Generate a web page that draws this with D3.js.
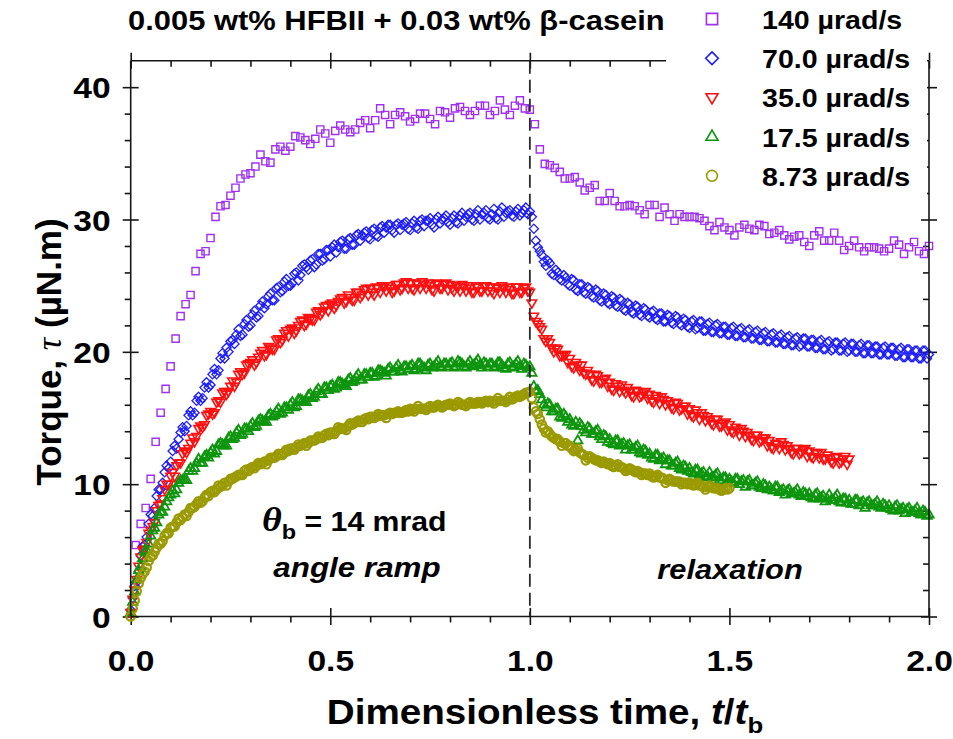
<!DOCTYPE html>
<html>
<head>
<meta charset="utf-8">
<script src="https://cdn.jsdelivr.net/npm/d3@7"></script>
<style>
  html, body { margin: 0; padding: 0; background: #fff; }
  svg { display: block; }
  text { font-family: "Liberation Sans", Arial, Helvetica, sans-serif; font-weight: bold; fill: #000; }
</style>
</head>
<body>
<svg id="chart" width="953" height="739"></svg>
<script>
// ---------------- data ----------------
const seriesLabels = ["140 \u00b5rad/s", "70.0 \u00b5rad/s", "35.0 \u00b5rad/s", "17.5 \u00b5rad/s", "8.73 \u00b5rad/s"];
const xTickValues = [0, 0.5, 1.0, 1.5, 2.0];
const xTickLabels = ["0.0", "0.5", "1.0", "1.5", "2.0"];
const yTickValues = [0, 10, 20, 30, 40];
const yTickLabels = ["0", "10", "20", "30", "40"];

// torque (µN.m) for 140 µrad/s, every 0.0125 t/tb starting at t/tb = 0.0125
const step140 = 0.0125, start140 = 0.0125;
const torque140 = [
  5.4, 7.0, 8.2, 10.4, 13.2, 15.4, 17.2, 18.9, 21.0, 22.7,
  23.6, 24.3, 26.1, 27.4, 27.6, 28.6, 30.2, 31.0, 31.1, 31.8,
  32.4, 33.1, 33.4, 33.5, 34.0, 34.9, 34.4, 34.3, 35.3, 35.5,
  35.2, 35.5, 36.3, 36.2, 36.0, 35.7, 36.1, 36.8, 36.5, 35.8,
  36.7, 37.1, 36.8, 36.6, 36.8, 37.3, 37.5, 36.9, 37.5, 38.4,
  37.9, 37.2, 37.9, 38.1, 37.8, 37.4, 37.6, 38.0, 38.0, 37.6,
  37.2, 38.2, 38.1, 37.7, 38.4, 38.5, 38.2, 37.9, 38.2, 38.6,
  38.6, 37.9, 38.2, 39.0, 38.3, 37.9, 38.6, 39.0, 38.4, 38.3,
  37.2, 35.3, 34.2, 34.1, 33.9, 33.6, 33.1, 33.1, 33.2, 32.8,
  32.2, 32.4, 32.6, 31.4, 31.4, 32.0, 31.4, 31.0, 31.0, 31.1,
  31.0, 30.7, 30.4, 31.1, 31.1, 30.2, 30.9, 30.4, 29.9, 30.4,
  30.2, 30.2, 30.2, 30.1, 29.9, 29.5, 29.2, 29.8, 29.4, 29.2,
  28.8, 29.4, 29.6, 29.3, 29.2, 29.6, 29.5, 28.9, 29.0, 29.2,
  28.8, 28.5, 28.7, 28.8, 28.3, 28.0, 28.8, 29.1, 28.4, 28.4,
  29.0, 28.4, 27.7, 28.0, 28.4, 27.9, 27.6, 27.9, 27.9, 27.8,
  27.6, 27.8, 28.4, 28.1, 27.4, 27.9, 28.3, 27.6, 27.4, 28.0
];

// the slower runs are logged every 0.005 t/tb from t/tb = 0 (one row = 0.1 t/tb)
const step70 = 0.005, start70 = 0;
const torque70 = [
  0.5,1.4,2.3,2.6,3.4,4.6,5.3,5.4,6.0,7.0,7.7,7.6,8.2,9.1,9.6,9.6,10.1,10.9,11.4,11.2,
  11.7,12.5,12.9,12.7,13.4,13.9,14.3,14.0,14.4,15.2,15.5,15.2,15.4,16.3,16.6,16.3,16.5,17.3,17.7,17.3,
  17.5,18.3,18.7,18.3,18.6,19.5,19.9,19.5,20.3,20.0,20.8,20.9,20.6,21.3,21.7,21.2,21.3,22.1,22.4,21.9,
  22.0,22.8,23.1,22.6,22.7,23.5,23.8,23.3,23.6,24.2,24.4,23.9,23.9,24.8,24.9,24.5,24.6,25.3,25.5,25.0,
  25.0,25.2,25.9,26.0,25.4,25.8,26.5,26.6,26.4,26.2,26.9,27.0,26.4,26.6,27.4,27.4,26.9,27.0,27.7,27.7,
  27.2,27.9,28.1,27.5,27.9,28.3,28.4,27.8,27.8,28.5,28.6,28.1,28.1,28.8,28.9,28.4,28.8,29.0,29.1,28.6,
  28.5,29.2,29.3,28.8,28.7,29.4,29.5,29.0,29.4,29.6,29.6,29.2,29.0,29.6,29.7,29.2,29.6,29.7,29.8,29.3,
  29.2,29.7,29.9,29.4,29.3,29.9,30.0,29.5,29.9,29.9,30.1,29.6,29.4,30.0,30.2,29.7,30.0,30.1,30.3,29.8,
  29.6,30.1,30.3,29.8,29.7,30.3,30.5,29.9,30.2,30.4,30.5,30.0,29.9,30.4,30.7,30.0,30.4,30.5,30.7,30.1,
  30.0,30.4,30.8,30.1,30.0,30.6,30.9,30.2,30.5,30.6,30.7,30.3,30.2,30.6,30.8,30.3,30.5,30.7,30.9,30.4,
  30.6,30.2,29.3,28.4,27.9,27.6,27.3,26.8,26.5,26.9,26.7,25.9,25.8,26.2,26.0,25.5,25.4,25.8,25.6,25.1,
  25.0,25.5,25.4,24.7,24.6,25.1,25.1,24.5,24.4,24.9,24.8,24.2,24.1,24.7,24.6,23.9,23.8,24.4,24.3,23.7,
  23.6,24.2,24.1,23.5,23.4,24.0,23.9,23.2,23.1,23.7,23.6,23.0,22.9,23.5,23.4,22.8,22.7,23.3,23.2,22.7,
  22.6,23.0,23.1,22.5,22.4,22.9,22.9,22.3,22.3,22.8,22.7,22.2,22.1,22.7,22.6,22.1,22.0,22.5,22.4,21.9,
  21.8,22.3,22.4,21.7,21.8,22.3,22.3,21.6,21.6,22.1,22.2,21.5,21.5,22.0,22.1,21.4,21.4,21.9,21.9,21.3,
  21.3,21.8,21.9,21.2,21.2,21.7,21.8,21.1,21.1,21.6,21.7,21.0,21.0,21.5,21.6,20.9,20.9,21.4,21.5,20.8,
  20.8,21.3,21.4,20.7,20.7,21.2,21.3,20.6,20.6,21.1,21.2,20.5,20.5,21.0,21.1,20.4,20.5,21.0,21.0,20.4,
  20.4,20.9,20.9,20.3,20.3,20.8,20.9,20.2,20.2,20.7,20.8,20.1,20.2,20.7,20.7,20.1,20.1,20.6,20.7,20.0,
  20.1,20.6,20.6,20.0,20.0,20.5,20.6,19.9,19.9,20.5,20.5,19.9,19.9,20.4,20.4,19.8,19.8,20.3,20.4,19.8,
  19.8,20.3,20.3,19.7,19.7,20.2,20.3,19.6,19.6,20.2,20.2,19.6,19.6,20.1,20.1,19.5,19.5,20.1,20.1,19.5,
  19.8
];

const step35 = 0.005, start35 = 0;
const torque35 = [
  0.3,1.3,2.0,2.8,3.8,4.5,5.0,5.1,5.6,6.3,6.5,6.8,7.1,8.0,8.4,8.5,8.9,9.6,10.0,10.0,
  10.6,10.9,10.6,11.4,11.6,11.6,12.3,12.5,12.4,12.7,13.1,13.5,13.2,13.6,14.2,14.4,14.3,14.5,15.2,15.3,
  15.5,15.3,15.4,16.2,16.3,16.2,16.9,17.0,16.8,17.0,17.4,17.8,17.4,17.7,18.3,18.5,18.3,18.4,19.0,19.1,
  19.2,19.4,19.0,19.2,19.6,19.9,20.1,19.7,19.8,20.4,20.3,20.2,20.2,20.9,21.0,20.7,20.9,21.4,21.6,21.2,
  21.7,21.8,21.4,21.6,22.0,22.3,22.4,22.0,22.1,22.6,22.5,22.4,22.4,23.0,23.1,22.8,23.0,23.4,23.5,23.1,
  23.6,23.7,23.3,23.5,23.8,24.0,24.1,23.7,23.8,24.3,24.1,23.9,23.9,24.5,24.5,24.1,24.3,24.7,24.8,24.3,
  24.8,24.5,24.3,24.9,24.8,24.5,25.0,24.9,24.6,25.0,24.8,24.5,24.6,25.1,25.1,24.7,24.8,25.2,25.3,24.8,
  25.2,24.8,24.7,25.2,25.1,24.8,25.3,25.1,24.8,25.2,25.0,24.7,24.6,25.2,25.1,24.8,24.8,25.1,25.2,24.7,
  25.1,24.8,24.6,25.0,24.9,24.6,25.1,24.9,24.6,25.0,24.8,24.5,24.5,25.0,24.9,24.6,24.6,25.0,25.0,24.6,
  24.9,24.6,24.4,24.9,24.8,24.5,25.0,24.8,24.5,24.9,24.7,24.4,24.4,24.9,24.9,24.5,24.5,24.8,24.9,24.6,
  24.5,23.7,22.7,22.3,22.1,21.9,21.7,21.0,20.8,21.0,20.7,20.3,20.0,20.3,20.2,19.7,19.7,19.8,19.8,19.2,
  19.5,18.9,18.8,19.2,19.0,18.6,19.0,18.4,18.3,18.6,18.3,17.9,17.8,18.3,18.2,17.7,17.7,17.9,18.0,17.4,
  17.7,17.2,17.1,17.6,17.4,17.0,17.5,17.1,16.9,17.3,17.0,16.7,16.6,17.1,17.0,16.6,16.7,16.9,17.0,16.5,
  16.8,16.3,16.2,16.7,16.5,16.1,16.6,16.4,16.0,16.3,16.1,15.8,15.7,16.2,16.1,15.6,15.7,15.9,15.9,15.3,
  15.7,15.2,15.1,15.6,15.4,14.9,15.4,15.2,14.8,15.1,14.9,14.6,14.5,14.9,14.9,14.4,14.4,14.6,14.7,14.1,
  14.5,14.0,13.9,14.3,14.1,13.7,14.2,14.0,13.6,13.9,13.7,13.4,13.3,13.7,13.7,13.2,13.3,13.5,13.5,12.9,
  13.3,12.8,12.7,13.1,13.0,12.7,13.2,13.0,12.6,12.9,12.7,12.4,12.3,12.7,12.7,12.3,12.4,12.6,12.7,12.1,
  12.5,12.1,12.0,12.4,12.3,12.0,12.4,11.9,11.9,12.2,12.0,11.7,11.6,12.0,12.1,11.6,11.7,11.9,12.1,11.5,
  11.9
];

const step17 = 0.005, start17 = 0;
const torque17 = [
  0.3,1.1,1.9,2.8,3.5,3.8,4.4,4.9,5.0,5.5,6.1,6.5,6.7,7.1,7.7,7.9,7.9,8.3,8.7,9.0,
  9.2,9.5,9.3,9.6,10.1,10.3,10.3,10.3,10.3,11.0,11.2,11.0,11.2,11.6,11.9,11.6,11.6,12.1,12.2,12.0,
  12.4,12.6,12.3,12.5,13.0,13.1,13.0,12.9,12.9,13.5,13.6,13.4,13.5,13.9,14.1,13.7,13.8,14.2,14.2,14.0,
  14.4,14.6,14.3,14.4,14.8,14.9,14.8,14.7,14.7,15.2,15.3,15.1,15.2,15.5,15.7,15.3,15.4,15.8,15.8,15.6,
  16.0,16.2,15.8,15.9,16.4,16.4,16.3,16.2,16.2,16.7,16.8,16.5,16.6,17.0,17.2,16.8,16.8,17.3,17.3,17.1,
  17.4,17.5,17.2,17.3,17.7,17.7,17.6,17.5,17.4,17.9,18.0,17.7,17.8,18.1,18.3,17.9,17.9,18.3,18.3,18.1,
  18.4,18.4,18.1,18.2,18.6,18.6,18.5,18.4,18.2,18.7,18.8,18.5,18.5,18.8,19.0,18.6,18.5,18.9,18.9,18.7,
  18.9,19.0,18.6,18.7,19.1,19.1,18.9,18.8,18.6,19.0,19.1,18.8,18.9,19.1,19.3,18.9,18.8,19.1,19.1,18.9,
  19.1,19.2,18.8,18.9,19.3,19.2,19.1,18.9,18.8,19.1,19.3,18.9,19.0,19.2,19.4,19.0,18.8,19.2,19.1,18.9,
  19.1,19.1,18.8,18.9,19.2,19.2,19.0,18.8,18.7,19.1,19.2,18.8,18.9,19.1,19.3,18.9,18.7,19.1,19.0,18.8,
  18.9,18.4,17.4,17.0,17.1,16.8,16.4,16.0,15.8,16.1,16.0,15.5,15.5,15.7,15.7,15.1,15.0,15.3,15.1,14.7,
  14.9,14.5,14.4,14.7,13.3,14.6,14.4,14.1,13.9,14.3,14.2,13.8,13.8,14.0,14.1,13.6,13.4,13.7,13.6,13.2,
  13.4,13.1,13.0,13.3,13.3,12.9,13.0,13.1,12.6,12.9,13.0,12.6,12.6,12.8,12.9,12.4,12.3,12.6,12.5,12.2,
  12.3,12.0,11.9,12.2,12.2,11.8,11.9,12.0,11.5,11.8,11.8,11.4,11.4,11.6,11.7,11.2,11.1,11.4,11.3,11.0,
  11.2,10.9,10.8,11.1,11.1,10.7,10.8,10.9,10.5,10.6,10.9,10.5,10.5,10.7,10.8,10.3,10.2,10.5,10.5,10.2,
  10.4,10.2,10.1,10.4,10.4,10.0,10.2,10.3,9.8,10.2,10.3,9.9,9.9,10.1,10.2,9.8,9.7,10.0,9.9,9.6,
  9.8,9.6,9.5,9.8,9.8,9.4,9.5,9.6,9.2,9.5,9.6,9.3,9.3,9.4,9.6,9.2,9.1,9.4,9.3,9.1,
  9.3,9.0,8.9,9.2,9.3,8.9,9.0,9.1,8.7,8.9,9.2,8.8,8.8,9.0,9.2,8.7,8.6,8.9,8.9,8.6,
  8.8,8.5,8.5,8.8,8.8,8.4,8.6,8.7,8.2,8.6,8.7,8.4,8.4,8.5,8.7,8.3,8.2,8.5,8.4,8.2,
  8.4,8.1,8.0,8.3,8.4,8.0,8.1,8.2,7.8,8.1,8.2,7.9,7.9,8.0,8.2,7.8,7.7,8.0,7.9,7.6,
  7.7
];

const step873 = 0.005, start873 = 0;
const torque873 = [
  0.0,0.6,1.2,1.9,2.5,2.9,3.2,3.4,3.7,4.2,4.5,4.6,4.9,5.2,5.5,5.5,5.7,6.1,6.3,6.3,
  6.7,6.8,6.8,7.1,7.4,7.3,7.5,7.7,7.6,7.9,8.2,8.2,8.3,8.5,8.7,8.6,8.7,9.0,9.2,9.1,
  9.4,9.5,9.4,9.6,9.9,9.8,9.9,10.1,9.9,10.2,10.4,10.4,10.5,10.6,10.7,10.7,10.7,11.0,11.1,11.0,
  11.2,11.3,11.2,11.4,11.6,11.5,11.6,11.7,11.5,11.8,12.0,12.0,12.0,12.1,12.3,12.2,12.2,12.4,12.6,12.5,
  12.7,12.7,12.6,12.8,13.0,12.9,13.0,13.1,12.9,13.1,13.3,13.3,13.3,13.4,13.6,13.5,13.5,13.7,13.8,13.7,
  13.9,13.9,13.8,14.0,14.3,14.2,14.2,14.2,14.1,14.4,14.6,14.5,14.6,14.7,14.8,14.7,14.7,14.9,15.0,14.9,
  15.1,15.1,15.0,15.1,15.3,15.2,15.2,15.2,15.0,15.3,15.4,15.3,15.4,15.4,15.5,15.4,15.4,15.5,15.6,15.5,
  15.7,15.6,15.5,15.7,15.9,15.7,15.7,15.7,15.6,15.8,15.9,15.8,15.8,15.9,16.0,15.9,15.8,15.9,16.0,16.0,
  16.1,16.0,15.9,16.0,16.2,16.1,16.0,16.0,15.9,16.1,16.2,16.1,16.1,16.1,16.2,16.2,16.1,16.2,16.3,16.2,
  16.3,16.2,16.1,16.3,16.5,16.3,16.3,16.3,16.2,16.4,16.6,16.4,16.5,16.6,16.7,16.6,16.7,16.8,16.9,16.9,
  17.0,16.5,15.8,15.5,15.3,14.9,14.5,14.2,13.9,14.0,13.8,13.6,13.5,13.4,13.4,13.2,12.9,13.1,13.1,12.9,
  12.9,12.7,12.5,12.6,12.7,12.4,12.3,12.2,11.8,12.0,12.1,12.0,11.9,11.8,11.8,11.7,11.6,11.7,11.6,11.5,
  11.6,11.4,11.3,11.4,11.5,11.3,11.3,11.2,11.0,11.1,11.2,11.1,11.0,10.9,11.0,10.9,10.7,10.8,10.8,10.7,
  10.8,10.6,10.5,10.6,10.7,10.5,10.5,10.4,10.1,10.3,10.4,10.3,10.2,10.2,10.2,10.2,10.0,10.1,10.1,10.0,
  10.1,10.0,9.9,10.0,10.1,9.9,9.9,9.8,9.6,9.8,9.9,9.8,9.7,9.7,9.7,9.6,9.5,9.6,9.7,9.6,
  9.7
];

// ---------------- layout ----------------
const svg = d3.select("#chart");
const box = { left: 130.7, right: 929, top: 60.7, bottom: 616.5 };
const legendBox = { x0: 666, x1: 927, y0: 0, y1: 198 };
const STRETCH = 1.12;   // horizontal widening of the label lettering
const INK = "#161616";

const x = d3.scaleLinear().domain([0, 2]).range([box.left, box.right]);
const y = d3.scaleLinear().domain([0, 42]).range([box.bottom, box.top]);

const xMinor = d3.range(1, 20).map(i => i / 10).filter(v => Math.abs(v * 2 - Math.round(v * 2)) > 1e-6);
const yMinor = d3.range(1, 21).map(i => i * 2).filter(v => v % 10 !== 0);

// ---------------- symbols ----------------
const shapes = {
  square: s => `M${-s},${-s}h${2 * s}v${2 * s}h${-2 * s}Z`,
  diamond: s => `M0,${-s}L${s},0L0,${s}L${-s},0Z`,
  triDown: s => `M${-s},${-0.62 * s}L${s},${-0.62 * s}L0,${1.1 * s}Z`,
  triUp: s => `M${-s},${0.62 * s}L${s},${0.62 * s}L0,${-1.1 * s}Z`,
  circle: s => `M${-s},0A${s},${s} 0 1,0 ${s},0A${s},${s} 0 1,0 ${-s},0Z`
};

const series = [
  { label: seriesLabels[0], values: torque140, start: start140, step: step140, color: "#A030F0", shape: "square",  size: 3.6, lsize: 5.6, sw: 1.4 },
  { label: seriesLabels[1], values: torque70,  start: start70,  step: step70,  color: "#1C1CFF", shape: "diamond", size: 4.6, lsize: 6.3, sw: 1.3 },
  { label: seriesLabels[2], values: torque35,  start: start35,  step: step35,  color: "#FF1010", shape: "triDown", size: 4.7, lsize: 6.0, sw: 1.6 },
  { label: seriesLabels[3], values: torque17,  start: start17,  step: step17,  color: "#0E950E", shape: "triUp",   size: 4.7, lsize: 6.0, sw: 1.8 },
  { label: seriesLabels[4], values: torque873, start: start873, step: step873, color: "#9A9A00", shape: "circle",  size: 4.2, lsize: 5.4, sw: 2.2 }
];

// ---------------- axes (ticks) ----------------
function cleanAxis(g) {
  g.select(".domain").remove();
  g.selectAll(".tick line").attr("stroke", INK).attr("stroke-width", 1.6);
}

// bottom: labelled major ticks outward, inward half, minor ticks outward
svg.append("g").attr("transform", `translate(0,${box.bottom})`)
  .call(d3.axisBottom(x).tickValues(xTickValues).tickSize(8.5).tickFormat((d, i) => xTickLabels[i]))
  .call(cleanAxis)
  .call(g => g.selectAll(".tick text")
    .attr("y", 0).attr("dy", null)
    .attr("transform", `translate(0,54) scale(${STRETCH},1)`)
    .attr("font-size", 30).attr("font-family", null).attr("fill", "#000"));
svg.append("g").attr("transform", `translate(0,${box.bottom})`)
  .call(d3.axisTop(x).tickValues(xTickValues).tickSize(8.5).tickFormat(""))
  .call(cleanAxis);
svg.append("g").attr("transform", `translate(0,${box.bottom})`)
  .call(d3.axisBottom(x).tickValues(xMinor).tickSize(6).tickFormat(""))
  .call(cleanAxis);

// top: major ticks both ways, minor ticks inward
svg.append("g").attr("transform", `translate(0,${box.top})`)
  .call(d3.axisTop(x).tickValues(xTickValues).tickSize(8).tickFormat(""))
  .call(cleanAxis);
svg.append("g").attr("transform", `translate(0,${box.top})`)
  .call(d3.axisBottom(x).tickValues(xTickValues).tickSize(8).tickFormat(""))
  .call(cleanAxis);
svg.append("g").attr("transform", `translate(0,${box.top})`)
  .call(d3.axisBottom(x).tickValues(xMinor).tickSize(6).tickFormat(""))
  .call(cleanAxis);

// left: labelled major ticks both ways, minor ticks outward
svg.append("g").attr("transform", `translate(${box.left},0)`)
  .call(d3.axisLeft(y).tickValues(yTickValues).tickSize(8).tickFormat((d, i) => yTickLabels[i]))
  .call(cleanAxis)
  .call(g => g.selectAll(".tick text")
    .attr("x", 0).attr("dy", "0.36em")
    .attr("transform", `translate(-20,0) scale(${STRETCH},1)`)
    .attr("font-size", 30).attr("font-family", null).attr("fill", "#000"));
svg.append("g").attr("transform", `translate(${box.left},0)`)
  .call(d3.axisRight(y).tickValues(yTickValues).tickSize(8).tickFormat(""))
  .call(cleanAxis);
svg.append("g").attr("transform", `translate(${box.left},0)`)
  .call(d3.axisLeft(y).tickValues(yMinor).tickSize(6).tickFormat(""))
  .call(cleanAxis);

// right: major ticks both ways, minor ticks inward
svg.append("g").attr("transform", `translate(${box.right},0)`)
  .call(d3.axisRight(y).tickValues(yTickValues).tickSize(8).tickFormat(""))
  .call(cleanAxis);
svg.append("g").attr("transform", `translate(${box.right},0)`)
  .call(d3.axisLeft(y).tickValues(yTickValues).tickSize(8).tickFormat(""))
  .call(cleanAxis);
svg.append("g").attr("transform", `translate(${box.right},0)`)
  .call(d3.axisLeft(y).tickValues(yMinor).tickSize(6).tickFormat(""))
  .call(cleanAxis);

// ---------------- markers ----------------
const plotArea = svg.append("g");
series.forEach(s => {
  const pts = s.values.map((v, i) => ({ t: s.start + i * s.step, v }));
  plotArea.append("g")
    .selectAll("path")
    .data(pts)
    .join("path")
    .attr("transform", d => `translate(${x(d.t)},${y(d.v)})`)
    .attr("d", shapes[s.shape](s.size))
    .attr("fill", "none")
    .attr("stroke", s.color)
    .attr("stroke-width", s.sw);
});

// dashed separator between ramp and relaxation
svg.append("line")
  .attr("x1", x(1)).attr("x2", x(1))
  .attr("y1", box.top).attr("y2", box.bottom)
  .attr("stroke", "#2a2a2a").attr("stroke-width", 1.8)
  .attr("stroke-dasharray", "13,6");

// frame: bottom, left and top edges
const edge = (x1, y1, x2, y2) => svg.append("line")
  .attr("x1", x1).attr("y1", y1).attr("x2", x2).attr("y2", y2)
  .attr("stroke", INK).attr("stroke-width", 1.6);
edge(box.left, box.bottom, box.right, box.bottom);
edge(box.left, box.top, box.left, box.bottom);
edge(box.left, box.top, box.right, box.top);

// legend panel sits over the top-right corner of the frame
svg.append("rect")
  .attr("x", legendBox.x0).attr("y", legendBox.y0)
  .attr("width", legendBox.x1 - legendBox.x0).attr("height", legendBox.y1 - legendBox.y0)
  .attr("fill", "#fff");

// right edge drawn last
edge(box.right, box.top, box.right, box.bottom);

// ---------------- text ----------------
function stretched(px, py, anchor) {
  return svg.append("text")
    .attr("text-anchor", anchor)
    .attr("transform", `translate(${px},${py}) scale(${STRETCH},1)`);
}

// title
stretched(128, 30, "start").attr("font-size", 27.6)
  .text("0.005 wt% HFBII + 0.03 wt% \u03b2-casein");

// legend entries
series.forEach((s, i) => {
  const cy = 19 + i * 39.2;
  svg.append("path")
    .attr("transform", `translate(712,${cy})`)
    .attr("d", shapes[s.shape](s.lsize))
    .attr("fill", "none").attr("stroke", s.color).attr("stroke-width", 1.6);
  stretched(762, cy + 10, "start").attr("font-size", 25.5).text(s.label);
});

// x-axis title
const xt = stretched(545, 724, "middle").attr("font-size", 34.5);
xt.append("tspan").text("Dimensionless time, ");
xt.append("tspan").attr("font-style", "italic").text("t");
xt.append("tspan").text("/");
xt.append("tspan").attr("font-style", "italic").text("t");
xt.append("tspan").attr("font-size", 23).attr("dy", 9).text("b");

// y-axis title
const yt = svg.append("text")
  .attr("text-anchor", "middle")
  .attr("transform", "translate(61,352) rotate(-90)")
  .attr("font-size", 35);
yt.append("tspan").text("Torque, ");
yt.append("tspan").attr("font-family", "'Liberation Serif', 'Times New Roman', serif")
  .attr("font-style", "italic").attr("font-weight", "normal").text("\u03c4");
yt.append("tspan").text(" (\u00b5N.m)");

// annotations
const th = stretched(262, 531, "start").attr("font-size", 27);
th.append("tspan").attr("font-family", "'Liberation Serif', 'Times New Roman', serif")
  .attr("font-style", "italic").attr("font-size", 34).text("\u03b8");
th.append("tspan").attr("font-size", 21).attr("dy", 8).text("b");
th.append("tspan").attr("dy", -8).text(" = 14 mrad");

stretched(357, 577, "middle").attr("font-size", 28).attr("font-style", "italic").text("angle ramp");
stretched(730, 579, "middle").attr("font-size", 27.5).attr("font-style", "italic").text("relaxation");
</script>
</body>
</html>
